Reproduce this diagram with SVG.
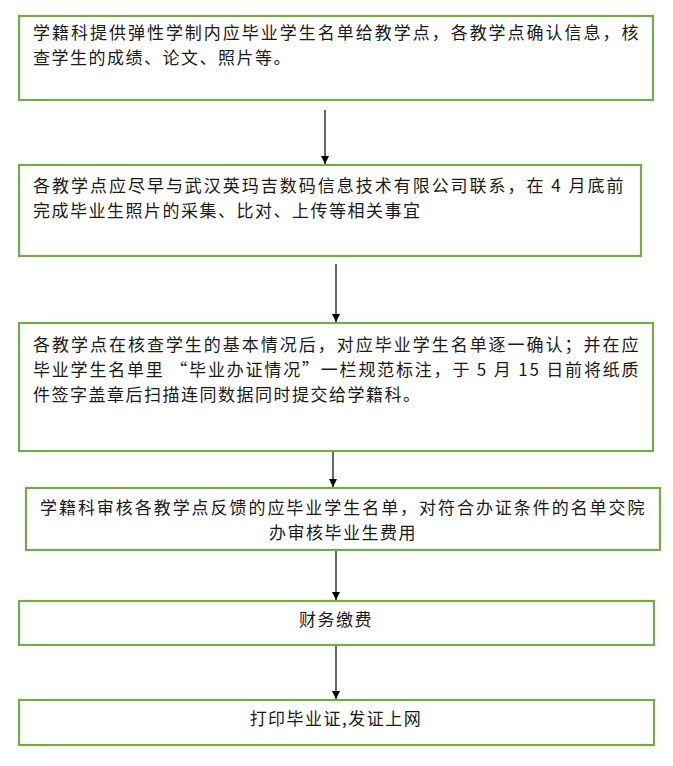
<svg xmlns="http://www.w3.org/2000/svg" width="673" height="766" viewBox="0 0 673 766">
<defs>
<style>
.box{fill:#fff;stroke:#77a84a;stroke-width:2.2}
.t{font-family:"Noto Sans CJK SC","Liberation Serif",serif;font-size:17px;fill:#1a1a1a;letter-spacing:1.5px}
.c{text-anchor:middle}
.ln{stroke:#000;stroke-width:1.2;fill:none}
</style>
<marker id="ah" viewBox="0 0 10 10" refX="10" refY="5" markerWidth="8" markerHeight="8" markerUnits="userSpaceOnUse" orient="auto"><path d="M0,0 L10,5 L0,10 z" fill="#000"/></marker>
</defs>
<rect width="673" height="766" fill="#fff"/>
<g id="n1"><rect class="box" x="19" y="16" width="634" height="84"/>
<text class="t" x="33" y="39" textLength="607" lengthAdjust="spacing">学籍科提供弹性学制内应毕业学生名单给教学点，各教学点确认信息，核</text>
<text class="t" x="33" y="64">查学生的成绩、论文、照片等。</text></g>
<g id="n2"><rect class="box" x="19" y="165" width="622" height="91"/>
<text class="t" x="33" y="192" textLength="592" lengthAdjust="spacing">各教学点应尽早与武汉英玛吉数码信息技术有限公司联系，在 4 月底前</text>
<text class="t" x="33" y="217">完成毕业生照片的采集、比对、上传等相关事宜</text></g>
<g id="n3"><rect class="box" x="19" y="323" width="634" height="128"/>
<text class="t" x="33" y="351" textLength="607" lengthAdjust="spacing">各教学点在核查学生的基本情况后，对应毕业学生名单逐一确认；并在应</text>
<text class="t" x="33" y="376" textLength="607" lengthAdjust="spacing">毕业学生名单里 “毕业办证情况”一栏规范标注，于 5 月 15 日前将纸质</text>
<text class="t" x="33" y="401">件签字盖章后扫描连同数据同时提交给学籍科。</text></g>
<g id="n4"><rect class="box" x="26" y="488" width="634" height="62"/>
<text class="t c" x="343" y="514" textLength="606" lengthAdjust="spacing">学籍科审核各教学点反馈的应毕业学生名单，对符合办证条件的名单交院</text>
<text class="t c" x="343" y="539">办审核毕业生费用</text></g>
<g id="n5"><rect class="box" x="19" y="601" width="635" height="44"/>
<text class="t c" x="336" y="626">财务缴费</text></g>
<g id="n6"><rect class="box" x="19" y="700" width="635" height="45"/>
<text class="t c" x="336" y="725">打印毕业证,发证上网</text></g>
<g id="edges">
<line class="ln" x1="325" y1="110" x2="325" y2="164" marker-end="url(#ah)"/>
<line class="ln" x1="336" y1="264" x2="336" y2="322" marker-end="url(#ah)"/>
<line class="ln" x1="333" y1="452" x2="333" y2="487" marker-end="url(#ah)"/>
<line class="ln" x1="336" y1="551" x2="336" y2="600" marker-end="url(#ah)"/>
<line class="ln" x1="336" y1="646" x2="336" y2="699" marker-end="url(#ah)"/>
</g>
</svg>
